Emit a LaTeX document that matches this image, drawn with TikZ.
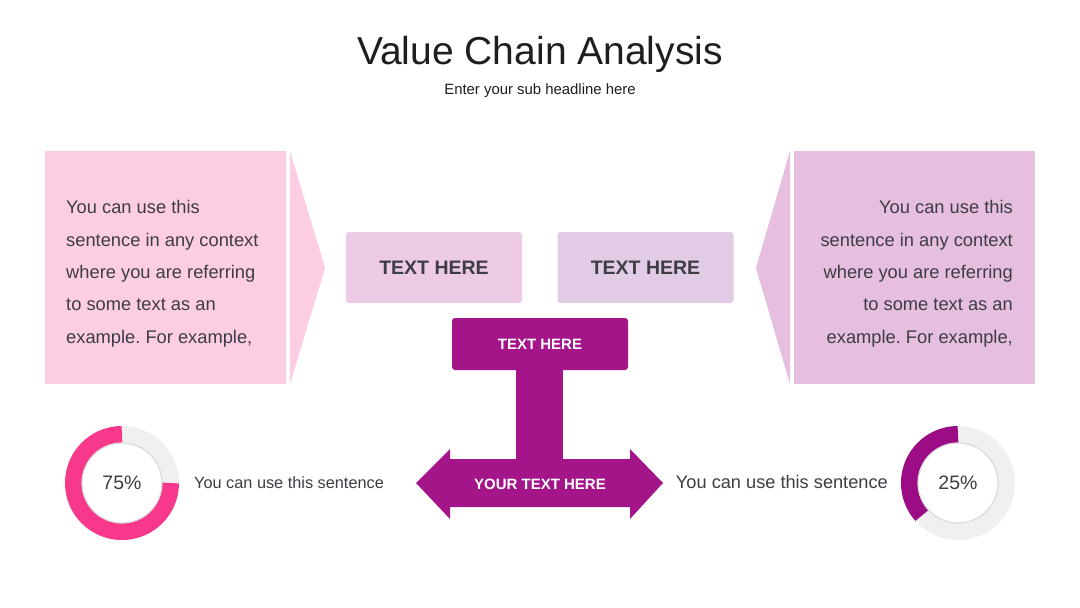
\documentclass[tikz,border=0pt]{standalone}
\usepackage{fontspec}
\setmainfont{Liberation Sans}
\usetikzlibrary{calc}
\frenchspacing
\definecolor{txtgray}{HTML}{3D3D45}
\definecolor{titlecol}{HTML}{1E1E1E}
\definecolor{lpink}{HTML}{FDCDE3}
\definecolor{rpurple}{HTML}{E6BEDF}
\definecolor{boxone}{HTML}{EDCBE4}
\definecolor{boxtwo}{HTML}{E1CBE5}
\definecolor{tpurple}{HTML}{A4158A}
\definecolor{dpink}{HTML}{F8388A}
\definecolor{dpurple}{HTML}{9C0C84}
\definecolor{ringgray}{HTML}{F0F0F0}
\tikzset{
  bodytext/.style={inner sep=0pt, text=txtgray, font=\fontsize{18.3}{32.3}\selectfont},
  lightbox/.style={inner sep=0pt, rounded corners=3pt, text=txtgray, font=\bfseries\fontsize{19.5}{22}\selectfont, minimum width=176pt, minimum height=71pt},
  whitelabel/.style={inner sep=0pt, text=white, font=\bfseries\fontsize{15}{18}\selectfont},
  panel/.style={inner sep=0pt, minimum width=241pt, minimum height=233pt},
  pct/.style={inner sep=0pt, text=txtgray, font=\fontsize{19.5}{24}\selectfont},
  ring/.style={line width=17pt}
}
\begin{document}
\begin{tikzpicture}[x=1pt,y=-1pt]
\useasboundingbox (0,0) rectangle (1080,608);
\fill[white] (0,0) rectangle (1080,608);

% title
\node[anchor=base, inner sep=0pt, text=titlecol, font=\fontsize{39}{44}\selectfont] (title) at (540,64) {Value Chain Analysis};
\node[anchor=base, inner sep=0pt, text=titlecol, font=\fontsize{14.9}{17}\selectfont] (sub) at (540,94) {Enter your sub headline here};

% left panel
\node[panel, fill=lpink] (lpanel) at (165.5,267.5) {};
\fill[lpink] (290,151) -- (325,268) -- (290,384) -- cycle;
\node[bodytext, anchor=base west, align=left] (ltext) at (66,343) {You can use this\\sentence in any context\\where you are referring\\to some text as an\\example. For example,};

% right panel
\node[panel, fill=rpurple] (rpanel) at (914,267.5) {};
\fill[rpurple] (790,151) -- (756,268) -- (790,384) -- cycle;
\node[bodytext, anchor=base east, align=right] (rtext) at (1013,343) {You can use this\\sentence in any context\\where you are referring\\to some text as an\\example. For example,};

% light boxes
\node[lightbox, fill=boxone] (boxa) at (434,267.5) {TEXT HERE};
\node[lightbox, fill=boxtwo] (boxb) at (645.5,267.5) {TEXT HERE};

% purple T
\fill[tpurple] (516,366) rectangle (563,462);
\node[whitelabel, fill=tpurple, rounded corners=3pt, minimum width=176pt, minimum height=52pt] (ttop) at (540,344) {TEXT HERE};
\fill[tpurple] (416,483) -- (450,449) -- (450,459) -- (630,459) -- (630,449) -- (663,483) -- (630,519) -- (630,507) -- (450,507) -- (450,519) -- cycle;
\node[whitelabel] (arrowtext) at (540,484) {YOUR TEXT HERE};

% left donut
\coordinate (dl) at (122,483);
\draw[ring, ringgray] (dl) circle (48.5);
\draw[ring, dpink] ($(dl)+(0:48.5)$) arc[start angle=0, end angle=270, radius=48.5];
\fill[white] (dl) circle (40);
\draw[black!14, line width=1.2pt] (dl) circle (40);
\node[pct] (pl) at (dl) {75\%};
\node[bodytext, anchor=base west, font=\fontsize{16.3}{19}\selectfont] (sl) at (194,488) {You can use this sentence};

% right donut
\coordinate (dr) at (958,483);
\draw[ring, ringgray] (dr) circle (48.5);
\draw[ring, dpurple] ($(dr)+(-90:48.5)$) arc[start angle=-90, end angle=-222, radius=48.5];
\fill[white] (dr) circle (40);
\draw[black!14, line width=1.2pt] (dr) circle (40);
\node[pct] (pr) at (dr) {25\%};
\node[bodytext, anchor=base east, font=\fontsize{18.2}{21}\selectfont] (sr) at (888,488) {You can use this sentence};
\end{tikzpicture}
\end{document}
